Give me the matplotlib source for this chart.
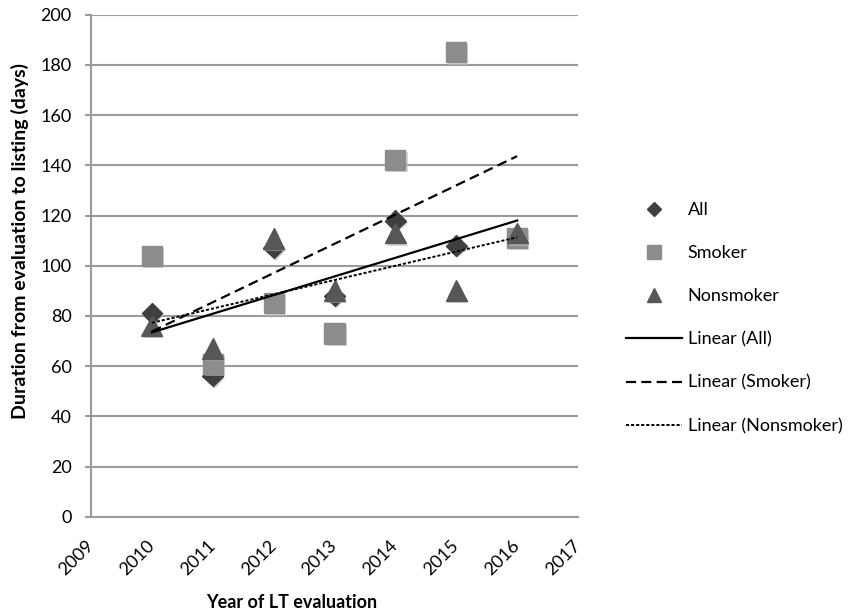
import matplotlib
matplotlib.use("Agg")
import matplotlib.pyplot as plt
import matplotlib.patheffects as pe
import numpy as np

years = [2010, 2011, 2012, 2013, 2014, 2015, 2016]
all_vals = [81, 56, 107, 88, 118, 108, 112]
smoker_vals = [104, 61, 85, 73, 142, 185, 111]
nonsmoker_vals = [76, 67, 111, 90, 113, 90, 113]
xticks = list(range(2009, 2018))
yticks = list(range(0, 201, 20))

plt.rcParams['font.family'] = ['Lato', 'DejaVu Sans']

fig = plt.figure(figsize=(8.65, 6.13), dpi=100)
ax = fig.add_axes([91/865, 1-516.7/613, 487/865, 502/613])

shadow = [pe.SimplePatchShadow(offset=(1.5, -1.5), shadow_rgbFace='#bbbbbb', alpha=0.6), pe.Normal()]

h_all, = ax.plot(years, all_vals, linestyle='none', marker='D', markersize=10.5,
                 color='#3f3f3f', zorder=4, path_effects=shadow, label='All')
h_smk, = ax.plot(years, smoker_vals, linestyle='none', marker='s', markersize=14.5,
                 color='#8c8c8c', zorder=5, path_effects=shadow, label='Smoker')
h_non, = ax.plot(years, nonsmoker_vals, linestyle='none', marker='^', markersize=15,
                 color='#575757', zorder=6, path_effects=shadow, label='Nonsmoker')

xs = np.array(years, dtype=float)
xfit = np.array([years[0], years[-1]], dtype=float)
p_all = np.polyfit(xs, all_vals, 1)
p_smk = np.polyfit(xs, smoker_vals, 1)
p_non = np.polyfit(xs, nonsmoker_vals, 1)
l_all, = ax.plot(xfit, np.polyval(p_all, xfit), color='black', lw=1.6, zorder=7, label='Linear (All)')
l_smk, = ax.plot(xfit, np.polyval(p_smk, xfit), color='black', lw=1.6, dashes=(4.5, 2.4), zorder=7, label='Linear (Smoker)')
l_non, = ax.plot(xfit, np.polyval(p_non, xfit), color='black', lw=1.4, dashes=(1.6, 1.0), zorder=7, label='Linear (Nonsmoker)')

ax.set_xlim(2009, 2017)
ax.set_ylim(0, 200)
ax.set_xticks(xticks)
ax.set_yticks(yticks)
ax.yaxis.grid(True, color='#9a9a9a', lw=1.5)
ax.set_axisbelow(True)
for s in ['top', 'right']:
    ax.spines[s].set_visible(False)
for s in ['left', 'bottom']:
    ax.spines[s].set_color('#9a9a9a')
    ax.spines[s].set_linewidth(1.5)
ax.tick_params(axis='y', length=4, width=1.5, color='#9a9a9a', labelsize=13, pad=10)
ax.tick_params(axis='x', length=0, labelsize=13, pad=19)
for lab in ax.get_xticklabels():
    lab.set_rotation(45)
    lab.set_ha('right')
    lab.set_va('center')
    lab.set_rotation_mode('anchor')

fig.text(292/865, 1-603/613, 'Year of LT evaluation', ha='center', va='center',
         fontsize=13, fontweight='bold')
fig.text(20/865, 1-241/613, 'Duration from evaluation to listing (days)', ha='center', va='center',
         rotation=90, fontsize=14, fontweight='bold')

leg = fig.legend(handles=[h_all, h_smk, h_non, l_all, l_smk, l_non],
                 loc='upper left', bbox_to_anchor=(610/865, 1-186/613),
                 frameon=False, fontsize=13, handlelength=3.1, handletextpad=0.3,
                 labelspacing=1.5, markerscale=0.7)
for h in leg.legend_handles[:3]:
    h.set_path_effects([])

fig.savefig('out.png', dpi=100)
